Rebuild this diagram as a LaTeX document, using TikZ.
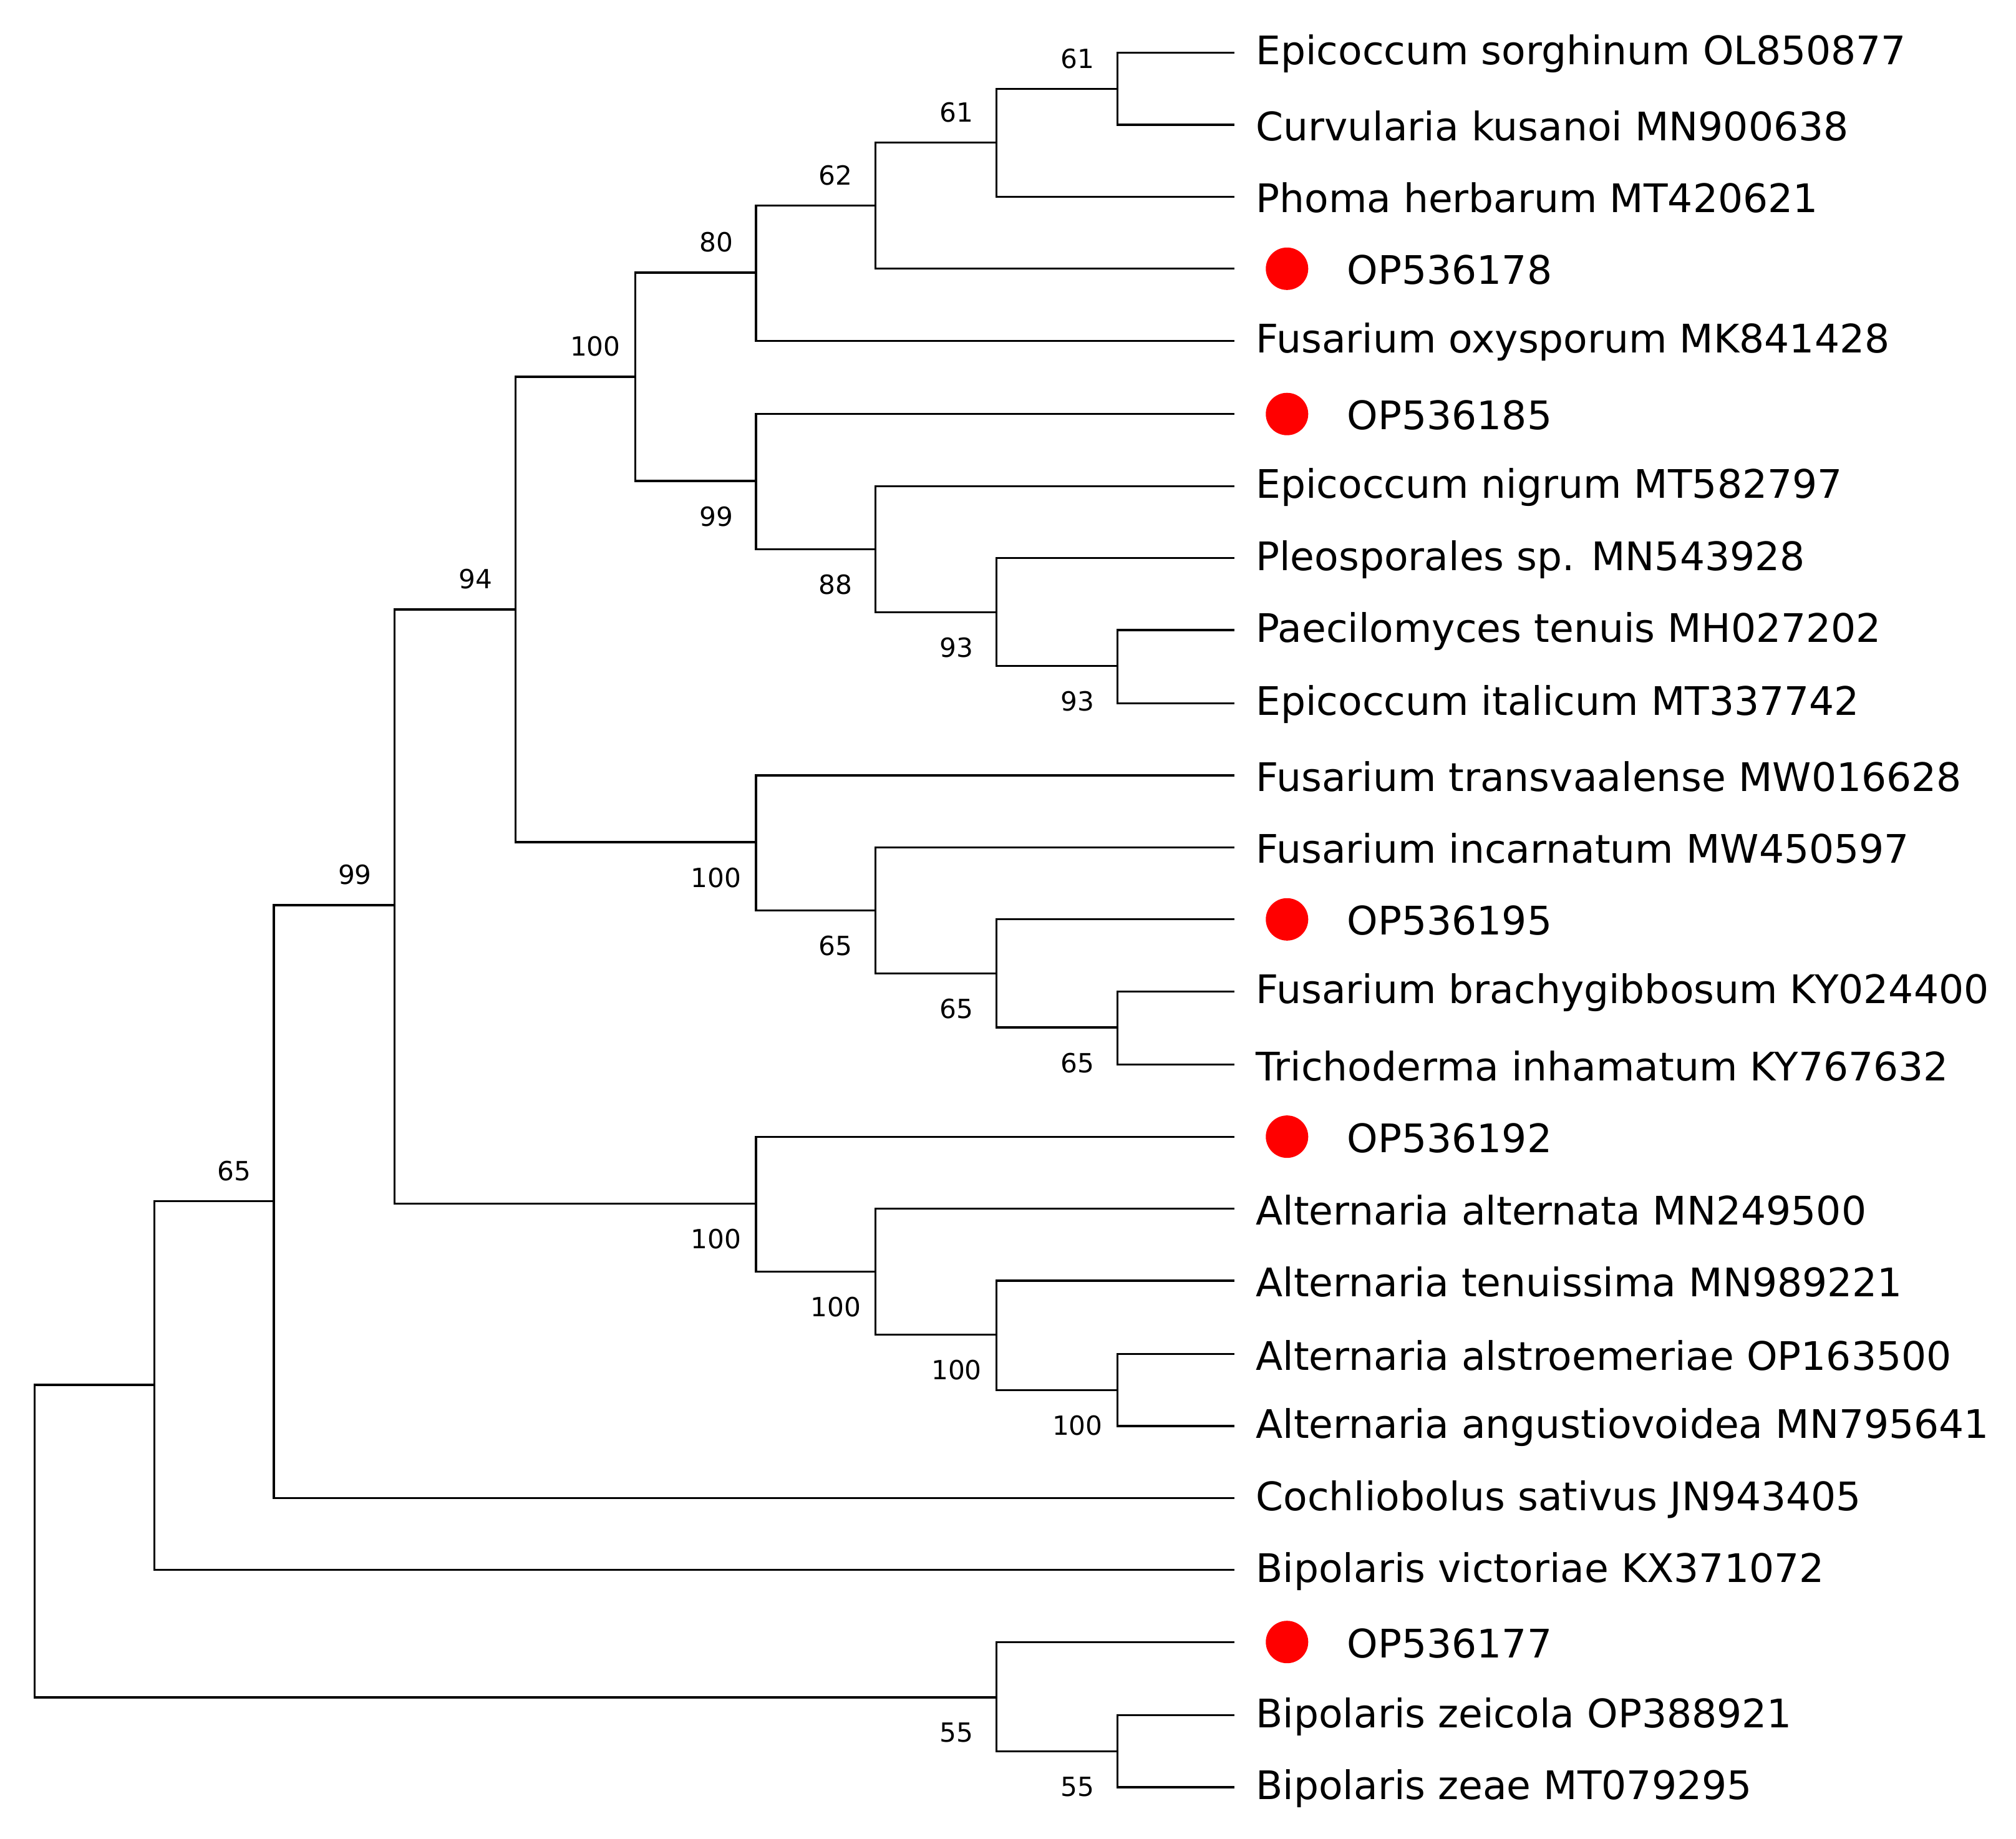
\documentclass[tikz,border=0pt]{standalone}
\usepackage{fontspec}
\setmainfont{DejaVu Sans}
\begin{document}
\begin{tikzpicture}[x=1pt,y=-1pt,line width=1.6pt,
  br/.style={draw=black},
  leaf/.style={anchor=west,inner sep=0pt,font=\fontsize{30.6}{30.6}\selectfont},
  bs/.style={inner sep=0pt,font=\fontsize{20.5}{20.5}\selectfont},
  dot/.style={circle,fill=red,inner sep=0pt,minimum size=33pt}]
\useasboundingbox (0,0) rectangle (1568,1430);
% leaves
\def\LX{960}
\foreach \i/\y in {1/41,2/97,3/153,4/209,5/265,6/322,7/378,8/434,9/490,10/547,11/603,12/659,13/715,14/771,15/828,16/884,17/940,18/996,19/1053,20/1109,21/1165,22/1221,23/1277,24/1334,25/1390}
  \coordinate (l\i) at (\LX,\y);
\foreach \i/\t in {1/{Epicoccum sorghinum OL850877},2/{Curvularia kusanoi MN900638},3/{Phoma herbarum MT420621},5/{Fusarium oxysporum MK841428},7/{Epicoccum nigrum MT582797},8/{Pleosporales sp. MN543928},9/{Paecilomyces tenuis MH027202},10/{Epicoccum italicum MT337742},11/{Fusarium transvaalense MW016628},12/{Fusarium incarnatum MW450597},14/{Fusarium brachygibbosum KY024400},15/{Trichoderma inhamatum KY767632},17/{Alternaria alternata MN249500},18/{Alternaria tenuissima MN989221},19/{Alternaria alstroemeriae OP163500},20/{Alternaria angustiovoidea MN795641},21/{Cochliobolus sativus JN943405},22/{Bipolaris victoriae KX371072},24/{Bipolaris zeicola OP388921},25/{Bipolaris zeae MT079295}}
  \node[leaf] (t\i) at ([xshift=16,yshift=-1]l\i) {\t};
\foreach \i/\t in {4/OP536178,6/OP536185,13/OP536195,16/OP536192,23/OP536177}{
  \node[dot] (d\i) at ([xshift=41]l\i) {};
  \node[leaf] (t\i) at ([xshift=87,yshift=-1]l\i) {\t};}
% internal nodes
\coordinate (A) at (869,69);  \coordinate (B) at (775,111);
\coordinate (C) at (681,160); \coordinate (D) at (588,212);
\coordinate (E) at (869,518); \coordinate (F) at (775,476);
\coordinate (G) at (681,427); \coordinate (H) at (588,374);
\coordinate (I) at (494,293);
\coordinate (J) at (869,799); \coordinate (K) at (775,757);
\coordinate (L) at (681,708); \coordinate (M) at (588,655);
\coordinate (N) at (401,474);
\coordinate (O) at (869,1081); \coordinate (P) at (775,1038);
\coordinate (Q) at (681,989);  \coordinate (R) at (588,936);
\coordinate (S) at (307,704);  \coordinate (T) at (213,934);
\coordinate (U) at (120,1077);
\coordinate (V) at (869,1362); \coordinate (W) at (775,1320);
\coordinate (Z) at (27,1198);
\foreach \p/\a/\b in {A/l1/l2,B/A/l3,C/B/l4,D/C/l5,E/l9/l10,F/l8/E,G/l7/F,H/l6/G,I/D/H,
  J/l14/l15,K/l13/J,L/l12/K,M/l11/L,N/I/M,O/l19/l20,P/l18/O,Q/l17/P,R/l16/Q,S/N/R,
  T/S/l21,U/T/l22,V/l24/l25,W/l23/V,Z/U/W}
  \draw[br] (\a) -| (\p) |- (\b);
% bootstrap labels
\foreach \p/\t in {A/61,B/61,C/62,D/80,I/100,N/94,S/99,T/65}
  \node[bs,anchor=south] at ([xshift=-31,yshift=15]\p) {\t};
\foreach \p/\t in {E/93,F/93,G/88,H/99,J/65,K/65,L/65,M/100,O/100,P/100,Q/100,R/100,V/55,W/55}
  \node[bs,anchor=north] at ([xshift=-31,yshift=-19]\p) {\t};
\end{tikzpicture}
\end{document}
